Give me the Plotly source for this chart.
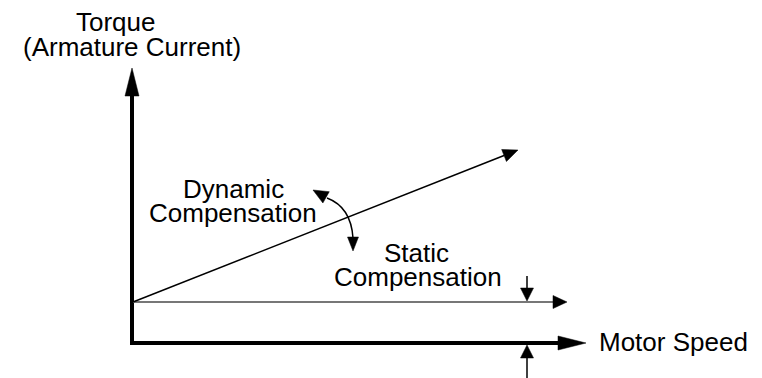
import math
import plotly.graph_objects as go

W, H = 762, 378
PAGE_MARGIN = 8  # default body margin of the html page
FONT = "Liberation Sans, Arial, sans-serif"
FS = 26

# ---- schematic geometry (diagram units) ----
origin = [132, 343]
torque_tip = [132, 68]
speed_tip = [586, 343]
static_start = [133, 302]
static_tip = [567, 302]
dynamic_tip = [518, 150]
gap_top_tail = [527, 276]
gap_top_tip = [527, 301]
gap_bot_tail = [527, 380]
gap_bot_tip = [527, 345]
curve_start = [327, 198]
curve_ctrl = [351, 207]
curve_end = [353, 238]
curve_head_a_tip = [313, 190]
curve_head_b_tip = [353, 251]

# ---- labels ----
label_text = ["Torque", "(Armature Current)", "Dynamic", "Compensation",
              "Static", "Compensation", "Motor Speed"]
label_x = [116, 132, 233, 233, 416, 418, 597]
label_y = [22, 47, 189, 213, 253, 277, 342]
label_anchor = ["center", "center", "center", "center", "center", "center", "left"]


def head(tail, tip, length, width):
    dx, dy = tip[0] - tail[0], tip[1] - tail[1]
    d = math.hypot(dx, dy)
    ux, uy = dx / d, dy / d
    bx, by = tip[0] - ux * length, tip[1] - uy * length
    px, py = -uy * width / 2, ux * width / 2
    path = (f"M {tip[0]},{tip[1]} L {bx + px},{by + py} "
            f"L {bx - px},{by - py} Z")
    return path, (bx, by)


shapes = []


def arrow(tail, tip, lw, color, length, width, draw_line=True):
    path, base = head(tail, tip, length, width)
    if draw_line:
        shapes.append(dict(type="line", xref="x", yref="y",
                           x0=tail[0], y0=tail[1], x1=base[0], y1=base[1],
                           line=dict(color=color, width=lw)))
    shapes.append(dict(type="path", xref="x", yref="y", path=path,
                       fillcolor="black", line=dict(color="black", width=0.5)))


# axes
arrow([origin[0], origin[1] + 2], torque_tip, 4, "black", 28, 14)
arrow([origin[0] - 2, origin[1]], speed_tip, 4, "black", 28, 14)
# static and dynamic lines
arrow(static_start, static_tip, 2, "#777777", 14, 13)
arrow(static_start, dynamic_tip, 1.5, "black", 15, 13)
# static compensation gap arrows
arrow(gap_top_tail, gap_top_tip, 1.5, "black", 13, 13)
arrow(gap_bot_tail, gap_bot_tip, 1.5, "black", 13, 13)
# curved arrow
shapes.append(dict(type="path", xref="x", yref="y",
                   path=(f"M {curve_start[0]},{curve_start[1]} "
                         f"Q {curve_ctrl[0]},{curve_ctrl[1]} {curve_end[0]},{curve_end[1]}"),
                   line=dict(color="black", width=1.5)))
arrow([curve_start[0] + 2, curve_start[1] + 1], curve_head_a_tip, 1.5, "black", 15, 13, draw_line=False)
arrow([curve_end[0], curve_end[1] - 2], curve_head_b_tip, 1.5, "black", 14, 11, draw_line=False)

annotations = [
    dict(x=x, y=y, xref="x", yref="y", text=t, showarrow=False,
         xanchor=a, yanchor="middle",
         font=dict(family=FONT, size=FS, color="black"))
    for t, x, y, a in zip(label_text, label_x, label_y, label_anchor)
]

fig = go.Figure()
fig.add_trace(go.Scatter(x=[PAGE_MARGIN, W], y=[PAGE_MARGIN, H], mode="markers",
                         marker=dict(opacity=0), hoverinfo="skip"))
fig.update_layout(
    width=W - PAGE_MARGIN, height=H - PAGE_MARGIN,
    margin=dict(l=0, r=0, t=0, b=0),
    paper_bgcolor="white", plot_bgcolor="white", showlegend=False,
    xaxis=dict(range=[PAGE_MARGIN, W], visible=False, fixedrange=True),
    yaxis=dict(range=[H, PAGE_MARGIN], visible=False, fixedrange=True),
    shapes=shapes, annotations=annotations,
)
fig.write_html("out.html", config=dict(displayModeBar=False))
